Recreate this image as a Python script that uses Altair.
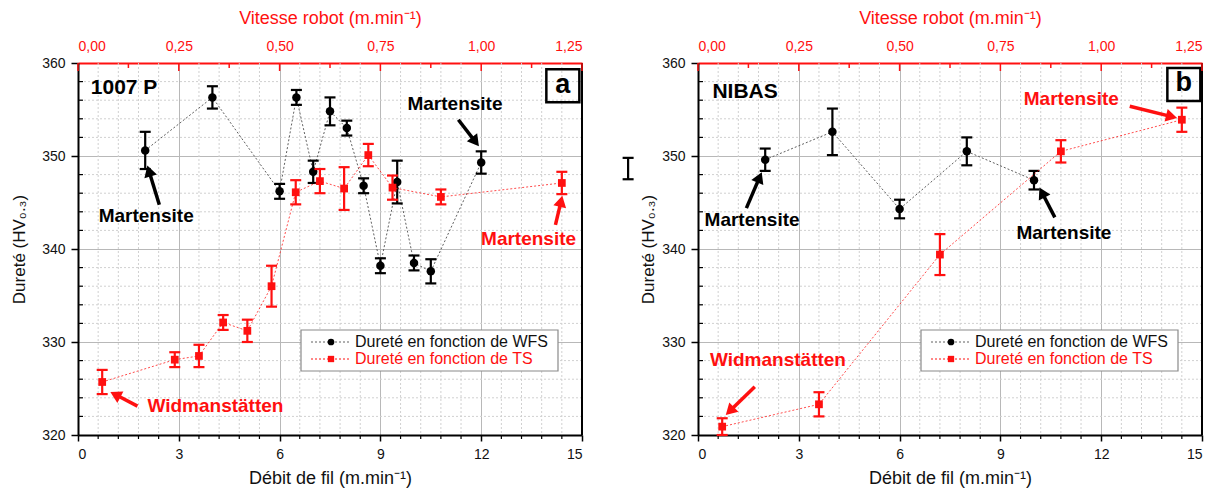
import math
import altair as alt
import pandas as pd

W, H = 504, 372
FONT = "Liberation Sans"
RED = "#ff1010"
GRAYLINE = "#606060"

# ---------------- data ----------------
A_WFS_X = [2, 4, 6, 6.5, 7, 7.5, 8, 8.5, 9, 9.5, 10, 10.5, 12]
A_WFS_Y = [350.6, 356.3, 346.2, 356.3, 348.3, 354.8, 353.0, 346.8, 338.2, 347.2, 338.5, 337.6, 349.3]
A_WFS_E = [2.0, 1.2, 0.8, 0.8, 1.2, 1.5, 0.8, 0.8, 0.8, 2.3, 0.8, 1.3, 1.2]
A_TS_X = [0.06, 0.24, 0.30, 0.36, 0.42, 0.48, 0.54, 0.60, 0.66, 0.72, 0.78, 0.90, 1.20]
A_TS_Y = [325.7, 328.1, 328.5, 332.1, 331.2, 336.0, 346.1, 347.3, 346.5, 350.1, 346.6, 345.6, 347.1]
A_TS_E = [1.3, 0.8, 1.2, 0.8, 1.2, 2.2, 1.3, 1.3, 2.3, 1.2, 1.3, 0.8, 1.2]

B_WFS_X = [2, 4, 6, 8, 10]
B_WFS_Y = [349.6, 352.6, 344.3, 350.5, 347.4]
B_WFS_E = [1.2, 2.5, 1.0, 1.5, 1.0]
B_TS_X = [0.06, 0.30, 0.60, 0.90, 1.20]
B_TS_Y = [320.9, 323.3, 339.4, 350.5, 353.9]
B_TS_E = [0.9, 1.3, 2.2, 1.2, 1.3]
# stray error bar standing left of panel b's axis
B_STRAY_X = [-2.08]
B_STRAY_Y = [348.65]
B_STRAY_E = [1.15]

X_MAJOR = [0, 3, 6, 9, 12, 15]
X_MINOR = [0.6, 1.2, 1.8, 2.4, 3.6, 4.2, 4.8, 5.4, 6.6, 7.2, 7.8, 8.4,
           9.6, 10.2, 10.8, 11.4, 12.6, 13.2, 13.8, 14.4]
Y_MAJOR = [320, 330, 340, 350, 360]
Y_MINOR = [322, 324, 326, 328, 332, 334, 336, 338, 342, 344, 346, 348, 352, 354, 356, 358]
TS_MAJOR = [0, 0.25, 0.5, 0.75, 1.0, 1.25]
TS_MINOR = [0.125, 0.375, 0.625, 0.875, 1.125]

A_NOTES_TEXT = ["Martensite", "Martensite", "Martensite", "Widmanstätten"]
A_NOTES_X = [2.03, 11.22, 13.41, 4.09]
A_NOTES_Y = [343.5, 355.6, 341.1, 323.1]
A_NOTES_C = ["black", "black", RED, RED]
A_ARROWS = [  # tail x, tail y, head x, head y, colour
    (2.42, 344.75, 2.07, 348.9, "black"),
    (11.32, 353.9, 11.92, 351.1, "black"),
    (14.21, 342.6, 14.41, 345.65, RED),
    (1.77, 323.1, 0.98, 324.6, RED),
]
B_NOTES_TEXT = ["Martensite", "Martensite", "Martensite", "Widmanstätten"]
B_NOTES_X = [1.61, 10.89, 11.11, 2.38]
B_NOTES_Y = [343.1, 341.7, 356.1, 328.1]
B_NOTES_C = ["black", "black", RED, RED]
B_ARROWS = [
    (1.44, 344.4, 1.89, 348.2, "black"),
    (10.62, 343.4, 10.17, 346.55, "black"),
    (12.85, 355.35, 14.24, 354.1, RED),
    (1.69, 325.2, 0.84, 322.2, RED),
]

XS = alt.Scale(domain=[0, 15], nice=False, zero=False)
YS = alt.Scale(domain=[320, 360], nice=False, zero=False)
TS = alt.Scale(domain=[0, 1.25], nice=False, zero=False)

X_AX = alt.Axis(values=X_MAJOR, grid=True, gridColor="#b8b8b8", gridWidth=1,
                domainColor="black", domainWidth=2, tickColor="black", tickSize=6,
                tickWidth=1.5, labelFont=FONT, labelFontSize=14, labelColor="#111",
                labelPadding=6, format="d", title="Débit de fil (m.min⁻¹)",
                titleFont=FONT, titleFontSize=18, titleFontWeight="normal",
                titleColor="#111", titlePadding=8)


def y_axis(tp):
    return alt.Axis(values=Y_MAJOR, grid=True, gridColor="#b8b8b8", gridWidth=1,
                    domainColor="black", domainWidth=2, tickColor="black", tickSize=7,
                    tickWidth=1.5, labelFont=FONT, labelFontSize=14, labelColor="#111",
                    labelPadding=6, format="d", title="Dureté (HV₀.₃)",
                    titleFont=FONT, titleFontSize=17, titleFontWeight="normal",
                    titleColor="#111", titlePadding=tp)


T_AX = alt.Axis(orient="top", values=TS_MAJOR, grid=False, ticks=False,
                domainColor=RED, domainWidth=2, labelFont=FONT, labelFontSize=14,
                labelColor=RED, labelPadding=10,
                labelExpr="replace(format(datum.value, '.2f'), '.', ',')",
                title="Vitesse robot (m.min⁻¹)", titleFont=FONT, titleFontSize=18,
                titleFontWeight="normal", titleColor=RED, titlePadding=12)


def arrows_df(arrows):
    sx, sy = W / 15.0, H / 40.0
    rows = []
    for x1, y1, x2, y2, c in arrows:
        dx = (x2 - x1) * sx
        dy = -(y2 - y1) * sy
        ln = math.hypot(dx, dy)
        ux, uy = dx / ln, dy / ln
        hl = 5.0
        cx = x2 - ux * hl / sx
        cy = y2 + uy * hl / sy
        ang = math.degrees(math.atan2(dx, -dy)) % 360
        rows.append(dict(x1=x1, y1=y1, x2=cx, y2=cy, c=c, ang=ang))
    return pd.DataFrame(rows)


def errframe(xv, yv, ev):
    return pd.DataFrame({"x": xv, "y": yv, "lo": [a - b for a, b in zip(yv, ev)],
                         "hi": [a + b for a, b in zip(yv, ev)]})


def panel(wx, wy, we, tx, ty, te, ntext, nx, ny, nc, arrows, label, letter,
          letter_x, letter_y, label_x, label_y, ytp, stray=None):
    Y_AX = y_axis(ytp)

    def xq(f):
        return alt.X(f, type="quantitative", scale=XS, axis=X_AX)

    def yq(f):
        return alt.Y(f, type="quantitative", scale=YS, axis=Y_AX)

    def tq(f):
        return alt.X(f, type="quantitative", scale=TS, axis=T_AX)

    dw = errframe(wx, wy, we)
    dt = errframe(tx, ty, te)
    one = pd.DataFrame({"k": [0]})

    g_minx = alt.Chart(pd.DataFrame({"v": X_MINOR})).mark_rule(
        color="#d0d0d0", strokeDash=[2, 2], strokeWidth=1).encode(x=xq("v"))
    g_miny = alt.Chart(pd.DataFrame({"v": Y_MINOR})).mark_rule(
        color="#d0d0d0", strokeDash=[2, 2], strokeWidth=1).encode(y=yq("v"))
    t_minx = alt.Chart(pd.DataFrame({"v": X_MINOR})).mark_rule(
        color="black", strokeWidth=1.2).encode(x=xq("v"), y=alt.value(H), y2=alt.value(H + 4))
    t_miny = alt.Chart(pd.DataFrame({"v": Y_MINOR})).mark_rule(
        color="black", strokeWidth=1.2).encode(y=yq("v"), x=alt.value(0), x2=alt.value(5))
    right = alt.Chart(one).mark_rule(color="black", strokeWidth=2).encode(
        x=alt.value(W), y=alt.value(0), y2=alt.value(H))

    def errbars(df, enc_x, color):
        r = alt.Chart(df).mark_rule(color=color, strokeWidth=2.2).encode(
            x=enc_x("x"), y=yq("lo"), y2="hi")
        c1 = alt.Chart(df).mark_point(shape="stroke", size=121, color=color, strokeWidth=2.2,
                                      opacity=1).encode(x=enc_x("x"), y=yq("lo"))
        c2 = alt.Chart(df).mark_point(shape="stroke", size=121, color=color, strokeWidth=2.2,
                                      opacity=1).encode(x=enc_x("x"), y=yq("hi"))
        return [r, c1, c2]

    w_line = alt.Chart(dw).mark_line(color=GRAYLINE, strokeDash=[2, 2], strokeWidth=1).encode(
        x=xq("x"), y=yq("y"))
    w_pts = alt.Chart(dw).mark_point(shape="circle", filled=True, size=72, color="black", opacity=1).encode(
        x=xq("x"), y=yq("y"))
    extra = []
    if stray is not None:
        extra = errbars(errframe(*stray), xq, "black")

    nd = pd.DataFrame({"t": ntext, "x": nx, "y": ny, "c": nc})
    notes = alt.Chart(nd).mark_text(font=FONT, fontSize=19, fontWeight="bold", align="center",
                                    baseline="middle").encode(
        x=xq("x"), y=yq("y"), text="t:N", color=alt.Color("c:N", scale=None))
    ad = arrows_df(arrows)
    ar_line = alt.Chart(ad).mark_rule(strokeWidth=3.5).encode(
        x=xq("x1"), y=yq("y1"), x2="x2", y2="y2", color=alt.Color("c:N", scale=None))
    ar_head = alt.Chart(ad).mark_point(shape="triangle-up", filled=True, size=170, opacity=1).encode(
        x=xq("x2"), y=yq("y2"), angle=alt.Angle("ang:Q", scale=None), color=alt.Color("c:N", scale=None))

    ld = pd.DataFrame({"t": [label], "x": [label_x], "y": [label_y]})
    lab = alt.Chart(ld).mark_text(font=FONT, fontSize=21, fontWeight="bold", align="left",
                                  baseline="middle", color="black").encode(
        x=xq("x"), y=yq("y"), text="t:N")
    bd = pd.DataFrame({"t": [letter], "x": [letter_x], "y": [letter_y]})
    box = alt.Chart(bd).mark_point(shape="square", filled=False, size=1089, strokeWidth=2.5,
                                   color="black", opacity=1).encode(x=xq("x"), y=yq("y"))
    let = alt.Chart(bd).mark_text(font=FONT, fontSize=27, fontWeight="bold", align="center",
                                  baseline="middle", dy=-1, color="black").encode(
        x=xq("x"), y=yq("y"), text="t:N")

    # legend (drawn by hand, positions are layout)
    lg_box = alt.Chart(one).mark_rect(fill="white", stroke="#8a8a8a", strokeWidth=1.2).encode(
        x=alt.value(223), x2=alt.value(480), y=alt.value(267), y2=alt.value(308))
    lg_l1 = alt.Chart(one).mark_rule(color=GRAYLINE, strokeDash=[2, 2], strokeWidth=1).encode(
        x=alt.value(233), x2=alt.value(272), y=alt.value(279))
    lg_l2 = alt.Chart(one).mark_rule(color=RED, strokeDash=[2, 2], strokeWidth=1).encode(
        x=alt.value(233), x2=alt.value(272), y=alt.value(296))
    lg_p1 = alt.Chart(one).mark_point(shape="circle", filled=True, size=45, color="black", opacity=1).encode(
        x=alt.value(253), y=alt.value(279))
    lg_p2 = alt.Chart(one).mark_point(shape="square", filled=True, size=40, color=RED, opacity=1).encode(
        x=alt.value(253), y=alt.value(296))
    lg_t1 = alt.Chart(one).mark_text(font=FONT, fontSize=16, align="left", baseline="middle",
                                     color="#111", text="Dureté en fonction de WFS").encode(
        x=alt.value(277), y=alt.value(279))
    lg_t2 = alt.Chart(one).mark_text(font=FONT, fontSize=16, align="left", baseline="middle",
                                     color=RED, text="Dureté en fonction de TS").encode(
        x=alt.value(277), y=alt.value(296))

    g1 = alt.layer(g_minx, g_miny, t_minx, t_miny, right, w_line, *errbars(dw, xq, "black"), w_pts,
                   *extra, notes, ar_line, ar_head, lab, box, let,
                   lg_box, lg_l1, lg_l2, lg_p1, lg_p2, lg_t1, lg_t2)

    t_major = alt.Chart(pd.DataFrame({"v": TS_MAJOR})).mark_rule(color=RED, strokeWidth=1.5).encode(
        x=tq("v"), y=alt.value(0), y2=alt.value(8))
    t_minor = alt.Chart(pd.DataFrame({"v": TS_MINOR})).mark_rule(color=RED, strokeWidth=1.5).encode(
        x=tq("v"), y=alt.value(0), y2=alt.value(5))
    t_line = alt.Chart(dt).mark_line(color=RED, strokeDash=[2, 2], strokeWidth=1, opacity=0.75).encode(
        x=tq("x"), y=yq("y"))
    t_pts = alt.Chart(dt).mark_point(shape="square", filled=True, size=60, color=RED, opacity=1).encode(
        x=tq("x"), y=yq("y"))
    g2 = alt.layer(t_major, t_minor, t_line, *errbars(dt, tq, RED), t_pts)

    return alt.layer(g1, g2).resolve_scale(x="independent").properties(width=W, height=H)


pa = panel(A_WFS_X, A_WFS_Y, A_WFS_E, A_TS_X, A_TS_Y, A_TS_E,
           A_NOTES_TEXT, A_NOTES_X, A_NOTES_Y, A_NOTES_C, A_ARROWS,
           "1007 P", "a", 14.43, 357.55, 0.38, 357.3, 13)
pb = panel(B_WFS_X, B_WFS_Y, B_WFS_E, B_TS_X, B_TS_Y, B_TS_E,
           B_NOTES_TEXT, B_NOTES_X, B_NOTES_Y, B_NOTES_C, B_ARROWS,
           "NIBAS", "b", 14.46, 357.7, 0.43, 356.9, 4,
           stray=(B_STRAY_X, B_STRAY_Y, B_STRAY_E))

chart = alt.hconcat(pa, pb, spacing=32).properties(
    padding={"left": 2, "top": 0, "right": 0, "bottom": 0}
).configure_view(strokeWidth=0).configure(background="white")

chart.save("out.html", embed_options={"renderer": "svg", "actions": False})
